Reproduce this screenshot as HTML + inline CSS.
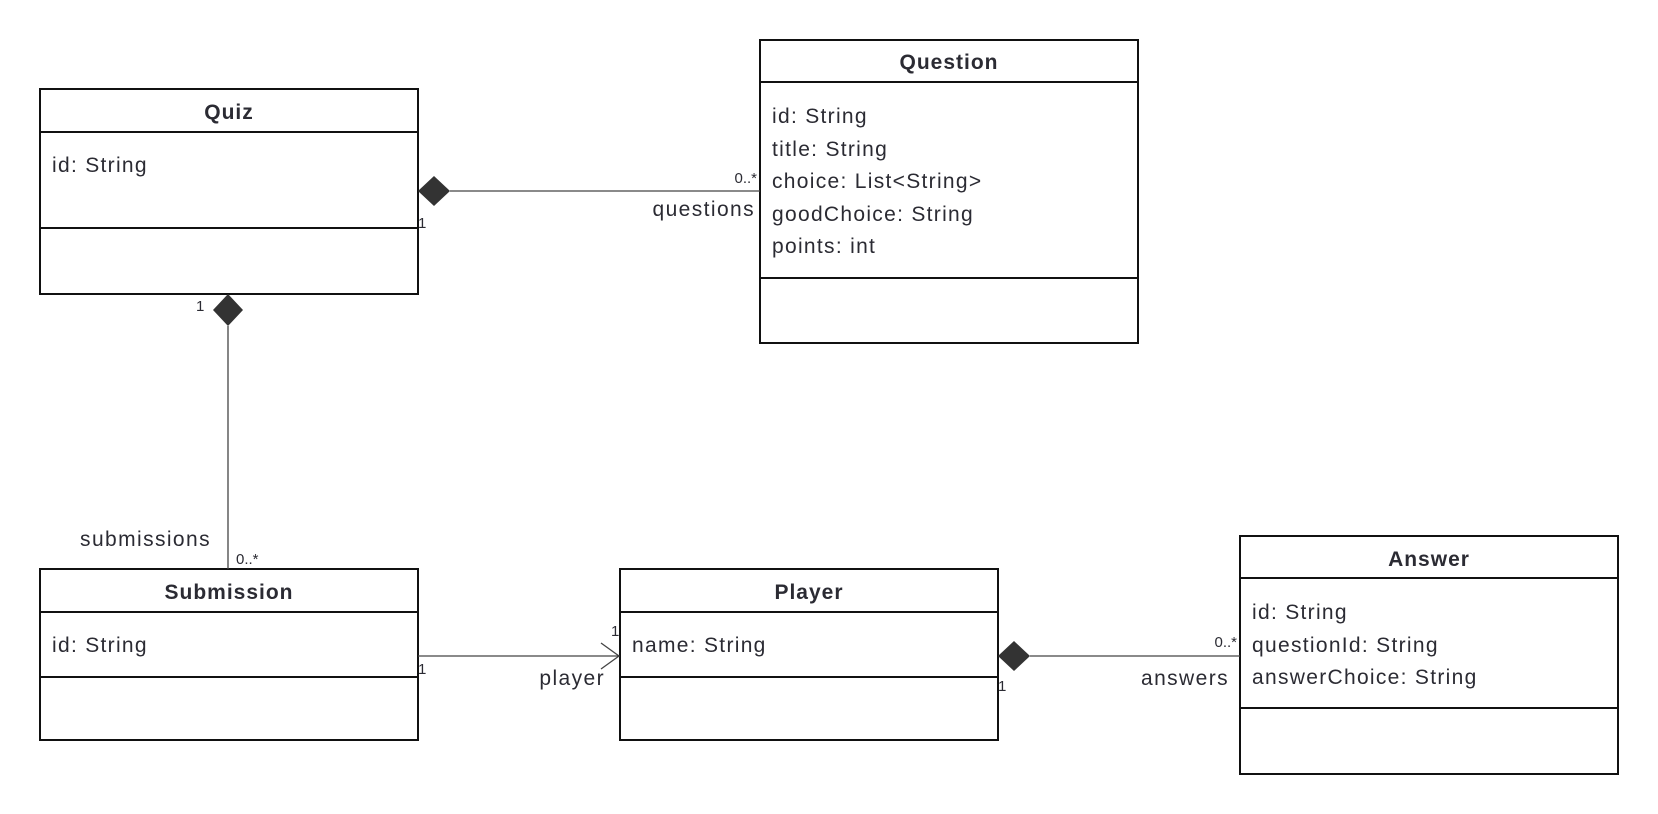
<!DOCTYPE html>
<html><head><meta charset="utf-8"><style>
html,body{margin:0;padding:0;background:#fff;}
svg{display:block;}
text{font-family:"Liberation Sans",sans-serif;fill:#2b2b33;}
.t{font-weight:bold;font-size:21px;text-anchor:middle;letter-spacing:1px;}
.a{font-size:21px;letter-spacing:1.3px;}
.s{font-size:15px;}
.l{font-size:21px;letter-spacing:1.4px;}
rect{fill:#fff;stroke:#111;stroke-width:2;}
.d{stroke:#111;stroke-width:2;}
.c{stroke:#444;stroke-width:1.3;fill:none;}
</style></head><body>
<svg width="1658" height="814" viewBox="0 0 1658 814">
<rect x="40" y="89" width="378" height="205"/>
<line class="d" x1="40" y1="132" x2="418" y2="132"/>
<line class="d" x1="40" y1="228" x2="418" y2="228"/>
<text class="t" x="229" y="119">Quiz</text>
<text class="a" x="52" y="172">id: String</text>
<rect x="760" y="40" width="378" height="303"/>
<line class="d" x1="760" y1="82" x2="1138" y2="82"/>
<line class="d" x1="760" y1="278" x2="1138" y2="278"/>
<text class="t" x="949" y="69">Question</text>
<text class="a" x="772" y="123">id: String</text>
<text class="a" x="772" y="156">title: String</text>
<text class="a" x="772" y="188">choice: List&lt;String&gt;</text>
<text class="a" x="772" y="221">goodChoice: String</text>
<text class="a" x="772" y="253">points: int</text>
<rect x="40" y="569" width="378" height="171"/>
<line class="d" x1="40" y1="612" x2="418" y2="612"/>
<line class="d" x1="40" y1="677" x2="418" y2="677"/>
<text class="t" x="229" y="599">Submission</text>
<text class="a" x="52" y="652">id: String</text>
<rect x="620" y="569" width="378" height="171"/>
<line class="d" x1="620" y1="612" x2="998" y2="612"/>
<line class="d" x1="620" y1="677" x2="998" y2="677"/>
<text class="t" x="809" y="599">Player</text>
<text class="a" x="632" y="652">name: String</text>
<rect x="1240" y="536" width="378" height="238"/>
<line class="d" x1="1240" y1="578" x2="1618" y2="578"/>
<line class="d" x1="1240" y1="708" x2="1618" y2="708"/>
<text class="t" x="1429" y="566">Answer</text>
<text class="a" x="1252" y="619">id: String</text>
<text class="a" x="1252" y="652">questionId: String</text>
<text class="a" x="1252" y="684">answerChoice: String</text>
<line class="c" x1="450" y1="191" x2="760" y2="191"/>
<polygon points="418,191 434,176 450,191 434,206" fill="#333"/>
<text class="s" x="757" y="183" text-anchor="end">0..*</text>
<text class="l" x="755" y="216" text-anchor="end">questions</text>
<text class="s" x="418" y="228">1</text>
<line class="c" x1="228" y1="326" x2="228" y2="569"/>
<polygon points="228,294 243,310 228,326 213,310" fill="#333"/>
<text class="s" x="196" y="311">1</text>
<text class="l" x="211" y="546" text-anchor="end">submissions</text>
<text class="s" x="236" y="564">0..*</text>
<line class="c" x1="418" y1="656" x2="619" y2="656"/>
<polyline class="c" points="601,643 619,656 601,669"/>
<text class="s" x="418" y="674">1</text>
<text class="s" x="611" y="636">1</text>
<text class="l" x="605" y="685" text-anchor="end">player</text>
<line class="c" x1="1030" y1="656" x2="1240" y2="656"/>
<polygon points="998,656 1014,641 1030,656 1014,671" fill="#333"/>
<text class="s" x="1237" y="647" text-anchor="end">0..*</text>
<text class="l" x="1229" y="685" text-anchor="end">answers</text>
<text class="s" x="998" y="691">1</text>
</svg>
</body></html>
